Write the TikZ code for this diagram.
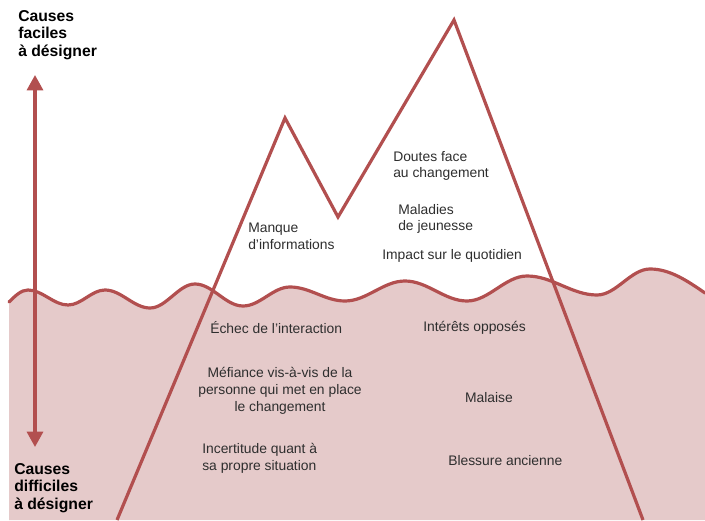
\documentclass[tikz,border=0pt]{standalone}
\usepackage{fontspec}
\setmainfont{Liberation Sans}
\usetikzlibrary{arrows.meta}

\definecolor{rouge}{HTML}{B24F4F}
\definecolor{mer}{HTML}{E5CACA}
\definecolor{texte}{HTML}{2E2E2E}

% ligne de flottaison (crêtes et creux reliés par des quarts de sinusoïde)
\newcommand{\vague}{(9,302) sin (28,290) cos (48,297.5) sin (68,305) cos (86.5,297.5) sin (105,290)
  cos (127.5,299) sin (150,308) cos (172.5,296) sin (195,284) cos (219,295) sin (243,306)
  cos (266.5,296.5) sin (290,287) cos (317.5,294) sin (345,301) cos (375,291) sin (405,281)
  cos (436,291) sin (467,301) cos (497,288.5) sin (527,276) cos (562,285.5) sin (597,295)
  cos (623.5,282) sin (650,269) cos (705,293)}

\begin{document}
\begin{tikzpicture}[x=0.75pt,y=0.75pt,yscale=-1,xscale=1,
	trait/.style={draw=rouge,line width=2.4pt},
	cause/.style={inner sep=0pt,text=texte,font=\fontsize{10.4}{12.6}\selectfont},
	titre/.style={inner sep=0pt,anchor=north west,align=left,font=\fontsize{11.8}{13.2}\selectfont\bfseries}]
	\useasboundingbox (0,0) rectangle (705,520);
	
	% mer
	\fill[mer] \vague -- (705,520) -- (9,520) -- cycle;
	\draw[trait,line cap=round] \vague;
	
	% montagne
	\draw[trait,line join=miter] (117,520) -- (285,118) -- (338,217) -- (454,20) -- (643,520);
	
	% titres et flèche
	\node[titre] (faciles) at (18,10) {Causes\\faciles\\à désigner};
	\node[titre] (difficiles) at (14,463) {Causes\\difficiles\\à désigner};
	\coordinate (haut) at (35,75);
	\coordinate (bas) at (35,447);
	\draw[draw=rouge,line width=2.3pt,{Triangle[width=12pt,length=11.5pt]}-{Triangle[width=12pt,length=11.5pt]}] (haut) -- (bas);
	
	% causes visibles
	\node[cause,anchor=west,align=left] (manque) at (248,236) {Manque\\d’informations};
	\node[cause,anchor=west,align=left] (doutes) at (393,166) {Doutes face\\au changement};
	\node[cause,anchor=west,align=left] (maladies) at (398,219) {Maladies\\de jeunesse};
	\node[cause,anchor=west] (impact) at (382,256) {Impact sur le quotidien};
	
	% causes cachées
	\node[cause,anchor=west] (echec) at (210,328) {Échec de l’interaction};
	\node[cause,anchor=west] (interets) at (423,328) {Intérêts opposés};
	\node[cause,align=center] (mefiance) at (280,391) {Méfiance vis-à-vis de la\\personne qui met en place\\le changement};
	\node[cause] (malaise) at (489,398) {Malaise};
	\node[cause,anchor=west,align=left] (incertitude) at (202,458) {Incertitude quant à\\sa propre situation};
	\node[cause,anchor=west] (blessure) at (448,461) {Blessure ancienne};
	
\end{tikzpicture}
\end{document}
